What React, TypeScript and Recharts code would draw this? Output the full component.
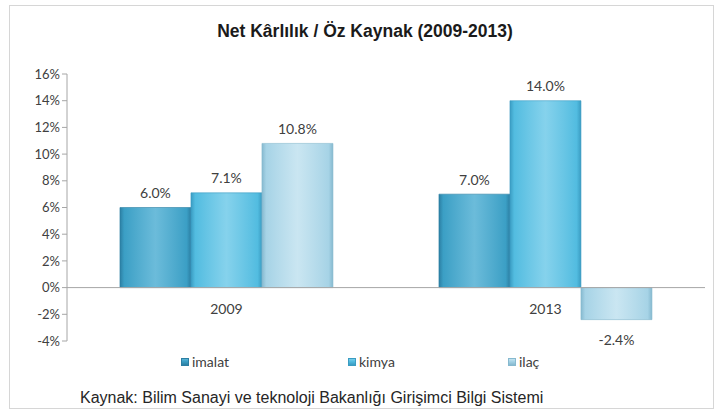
import { BarChart, Bar, XAxis, YAxis, LabelList, ReferenceLine } from "recharts";

const years = ["2009", "2013"];
const imalat = [6.0, 7.0];
const kimya = [7.1, 14.0];
const ilac = [10.8, -2.4];
const yTicks = [-4, -2, 0, 2, 4, 6, 8, 10, 12, 14, 16];

const series = [
  { key: "imalat", name: "imalat", color: "#3b9fc5", dark: "#2c7fa3", light: "#5bb4d6" },
  { key: "kimya", name: "kimya", color: "#52bce0", dark: "#3a9cc2", light: "#78cdea" },
  { key: "ilac", name: "ilaç", color: "#a6d3e6", dark: "#86b9cf", light: "#c4e3f0" },
];

const data = years.map((year, i) => ({
  year,
  imalat: imalat[i],
  kimya: kimya[i],
  ilac: ilac[i],
}));

const labelFont = "Lato, 'Open Sans', sans-serif";

function ValueLabel(props: any) {
  const { x, y, width, height, value } = props;
  const top = Math.min(y, y + height);
  const bottom = Math.max(y, y + height);
  const cy = value >= 0 ? top - 15 : bottom + 20;
  return (
    <text
      x={x + width / 2}
      y={cy}
      textAnchor="middle"
      dominantBaseline="central"
      fontSize={14}
      fontFamily={labelFont}
      fill="#404040"
    >
      {value.toFixed(1) + "%"}
    </text>
  );
}

// axis sits at the plot bottom, labels are pulled up under the zero line
function YearTick(props: any) {
  const { x, y, payload } = props;
  return (
    <text
      x={x}
      y={y - 41}
      textAnchor="middle"
      dominantBaseline="central"
      fontSize={14}
      fontFamily={labelFont}
      fill="#404040"
    >
      {payload.value}
    </text>
  );
}

const legendLeft = [181, 348, 508];

export default function App() {
  return (
    <div
      style={{
        position: "absolute",
        left: 0,
        top: 0,
        width: 714,
        height: 410,
        background: "#ffffff",
        overflow: "hidden",
      }}
    >
      <div
        style={{
          position: "absolute",
          left: 9,
          top: 5,
          width: 703,
          height: 402,
          border: "1.5px solid #d6d6d6",
        }}
      />
      <div
        style={{
          position: "absolute",
          left: 0,
          top: 21,
          width: 730,
          textAlign: "center",
          fontFamily: "'Liberation Sans', Arial, sans-serif",
          fontWeight: "bold",
          fontSize: 17.5,
          color: "#1a1a1a",
        }}
      >
        Net Kârlılık / Öz Kaynak (2009-2013)
      </div>
      <div style={{ position: "absolute", left: 0, top: 0 }}>
        <BarChart
          width={714}
          height={410}
          data={data}
          margin={{ top: 74, right: 9, bottom: 39, left: 7 }}
          barCategoryGap="16.6%"
          barGap={0}
        >
          <defs>
            {series.map((s) => (
              <linearGradient key={s.key} id={`grad-${s.key}`} x1="0" y1="0" x2="1" y2="0">
                <stop offset="0%" stopColor={s.dark} />
                <stop offset="6%" stopColor={s.color} />
                <stop offset="50%" stopColor={s.light} stopOpacity={0.9} />
                <stop offset="94%" stopColor={s.color} />
                <stop offset="100%" stopColor={s.dark} />
              </linearGradient>
            ))}
          </defs>
          <XAxis
            dataKey="year"
            axisLine={false}
            tickLine={false}
            tick={<YearTick />}
            interval={0}
            height={30}
          />
          <YAxis
            domain={[-4, 16]}
            ticks={yTicks}
            interval={0}
            tickFormatter={(v: number) => `${v}%`}
            axisLine={{ stroke: "#a6a6a6" }}
            tickLine={{ stroke: "#a6a6a6" }}
            tickSize={5}
            tick={{ fontSize: 13, fontFamily: labelFont, fill: "#404040" }}
            width={60}
          />
          <ReferenceLine y={0} stroke="#a6a6a6" strokeWidth={1} />
          {series.map((s) => (
            <Bar
              key={s.key}
              dataKey={s.key}
              name={s.name}
              fill={`url(#grad-${s.key})`}
              stroke={s.dark}
              strokeWidth={0.6}
              isAnimationActive={false}
            >
              <LabelList dataKey={s.key} content={<ValueLabel />} />
            </Bar>
          ))}
        </BarChart>
      </div>
      {series.map((s, i) => (
        <div
          key={s.key}
          style={{
            position: "absolute",
            left: legendLeft[i],
            top: 353,
            display: "flex",
            alignItems: "center",
            fontFamily: labelFont,
            fontSize: 14,
            color: "#404040",
            whiteSpace: "nowrap",
          }}
        >
          <span
            style={{
              display: "inline-block",
              width: 8,
              height: 8,
              marginRight: 3,
              background: `linear-gradient(180deg, ${s.light}, ${s.color} 40%, ${s.dark})`,
              border: `1px solid ${s.dark}`,
              boxSizing: "border-box",
            }}
          />
          {s.name}
        </div>
      ))}
      <div
        style={{
          position: "absolute",
          left: 80,
          top: 389,
          fontFamily: "'Liberation Sans', Arial, sans-serif",
          fontSize: 16,
          color: "#262626",
          whiteSpace: "nowrap",
        }}
      >
        Kaynak: Bilim Sanayi ve teknoloji Bakanlığı Girişimci Bilgi Sistemi
      </div>
    </div>
  );
}
